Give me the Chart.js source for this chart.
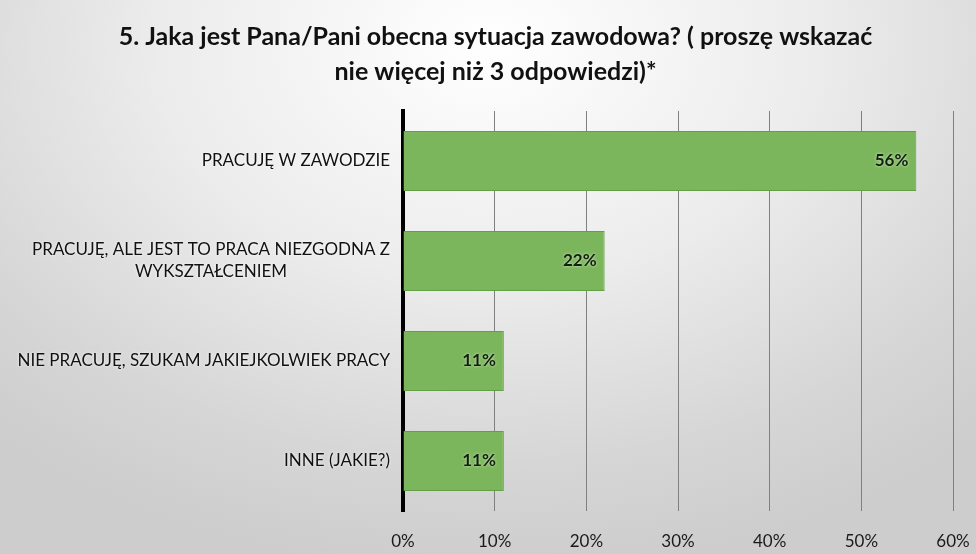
<!DOCTYPE html>
<html>
<head>
<meta charset="utf-8">
<script src="https://cdn.jsdelivr.net/npm/chart.js@4.4.1/dist/chart.umd.min.js"></script>
<style>
  html, body { margin: 0; padding: 0; }
  body {
    width: 976px; height: 554px; overflow: hidden;
    background: radial-gradient(ellipse 75% 95% at 50% 8%, #ffffff 0%, #ececec 45%, #d6d6d6 80%, #cdcdcd 100%);
  }
  #wrap { position: relative; width: 976px; height: 554px; }
</style>
</head>
<body>
<div id="wrap"><canvas id="chart"></canvas></div>
<script>
const titleLines = ['5. Jaka jest Pana/Pani obecna sytuacja zawodowa? ( proszę wskazać', 'nie więcej niż 3 odpowiedzi)*'];
const categories = [
  ['PRACUJĘ W ZAWODZIE'],
  ['PRACUJĘ, ALE JEST TO PRACA NIEZGODNA Z', 'WYKSZTAŁCENIEM'],
  ['NIE PRACUJĘ, SZUKAM JAKIEJKOLWIEK PRACY'],
  ['INNE (JAKIE?)'],
];
const shares = [0.56, 0.22, 0.11, 0.11];
const tickValues = [0, 0.1, 0.2, 0.3, 0.4, 0.5, 0.6];

const FONT = 'Lato, "Open Sans", sans-serif';
const AXIS_LEFT = 403;
const PAD_LEFT = 38;

// category labels: lines centred on each other, block right-aligned to the axis
const categoryLabels = {
  id: 'categoryLabels',
  afterDraw(chart) {
    const { ctx } = chart;
    const y = chart.scales.y;
    ctx.save();
    ctx.font = '17px ' + FONT;
    ctx.fillStyle = '#111111';
    ctx.textAlign = 'center';
    ctx.textBaseline = 'middle';
    ctx.shadowColor = 'rgba(255,255,255,0.9)';
    ctx.shadowBlur = 3;
    const lh = 22;
    categories.forEach((lines, i) => {
      const cy = y.getPixelForTick(i);
      const maxW = Math.max(...lines.map(l => ctx.measureText(l).width));
      const cx = chart.chartArea.left - 13 - maxW / 2;
      const top = cy - (lines.length - 1) * lh / 2;
      lines.forEach((l, k) => ctx.fillText(l, cx, top + k * lh));
    });
    ctx.restore();
  }
};

// value labels at the inner end of each bar
const valueLabels = {
  id: 'valueLabels',
  afterDatasetsDraw(chart) {
    const { ctx } = chart;
    const meta = chart.getDatasetMeta(0);
    ctx.save();
    ctx.font = 'bold 17px ' + FONT;
    ctx.fillStyle = '#10200a';
    ctx.textAlign = 'right';
    ctx.textBaseline = 'middle';
    ctx.shadowColor = 'rgba(255,255,255,0.7)';
    ctx.shadowBlur = 3;
    meta.data.forEach((bar, i) => {
      ctx.fillText(Math.round(shares[i] * 100) + '%', bar.x - 8, bar.y);
    });
    ctx.restore();
  }
};

new Chart(document.getElementById('chart'), {
  type: 'bar',
  data: {
    labels: categories,
    datasets: [{
      data: shares,
      backgroundColor: '#7cb65c',
      borderColor: '#62a046',
      borderWidth: 1,
      borderSkipped: 'start',
      categoryPercentage: 1,
      barPercentage: 0.6,
    }],
  },
  options: {
    indexAxis: 'y',
    responsive: true,
    maintainAspectRatio: false,
    animation: false,
    layout: { padding: { left: PAD_LEFT, right: 23, top: 0, bottom: 0 } },
    plugins: {
      legend: { display: false },
      tooltip: { enabled: false },
      title: {
        display: true,
        text: titleLines,
        color: '#111111',
        font: { family: FONT, size: 25, weight: 'bold', lineHeight: 1.4 },
        padding: { top: 19, bottom: 22 },
      },
    },
    scales: {
      x: {
        min: 0,
        max: 0.6,
        afterBuildTicks(scale) { scale.ticks = tickValues.map(v => ({ value: v })); },
        afterFit(scale) {
          scale.height = 43;
          scale.paddingLeft = 0;
          scale.paddingRight = 0;
        },
        ticks: {
          color: '#1a1a1a',
          font: { family: FONT, size: 17 },
          padding: 20,
          callback: v => Math.round(v * 100) + '%',
        },
        grid: { color: '#808080', lineWidth: 1, drawTicks: false },
        border: { display: false },
      },
      y: {
        afterFit(scale) { scale.width = AXIS_LEFT - PAD_LEFT; },
        ticks: { display: false },
        grid: { display: false },
        border: { color: '#000000', width: 4 },
      },
    },
  },
  plugins: [valueLabels, categoryLabels],
});
</script>
</body>
</html>
